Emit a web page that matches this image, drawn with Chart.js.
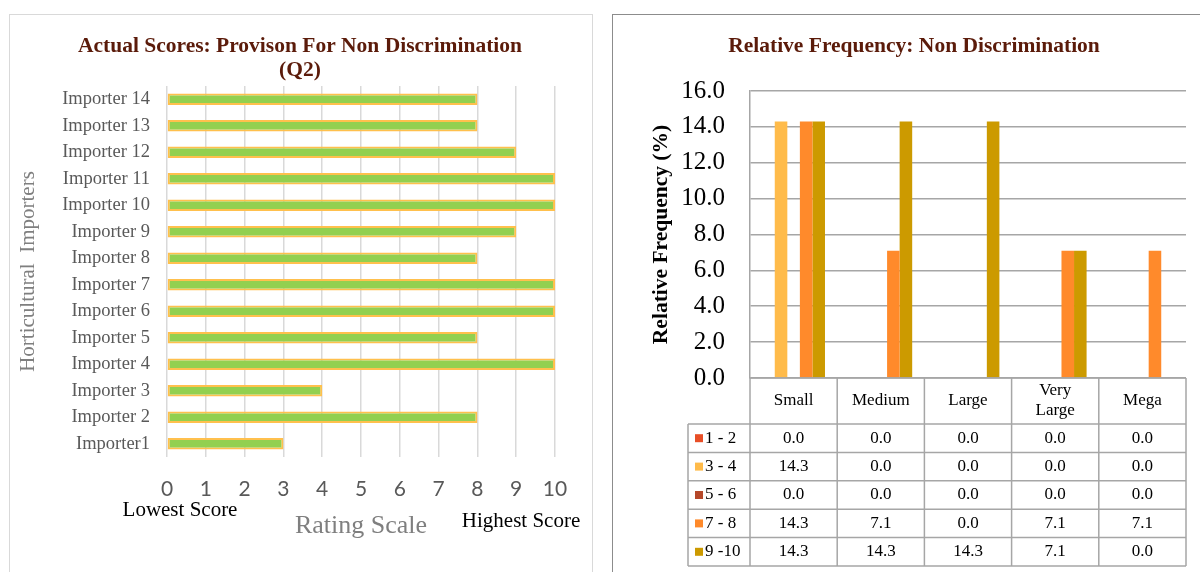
<!DOCTYPE html>
<html>
<head>
<meta charset="utf-8">
<script src="https://cdn.jsdelivr.net/npm/chart.js@4.4.1/dist/chart.umd.min.js"></script>
<style>
  body { margin: 0; background: #fff; width: 1200px; height: 572px; overflow: hidden; position: relative; }
  .panel { position: absolute; box-sizing: border-box; }
  #leftBox { left: 9px; top: 14px; width: 584px; height: 570px; border: 1.5px solid #d9d9d9; }
  #rightBox { left: 612px; top: 14px; width: 600px; height: 570px; border: 1.5px solid #8c8c8c; }
  canvas { position: absolute; top: 0; }
  #scoreChart { left: 0; }
  #freqChart { left: 600px; }
</style>
</head>
<body>
<div class="panel" id="leftBox"></div>
<div class="panel" id="rightBox"></div>
<canvas id="scoreChart" width="600" height="572"></canvas>
<canvas id="freqChart" width="600" height="572"></canvas>
<script>
/*----------------------------data------------------------------------*/
var importers = ['Importer1', 'Importer 2', 'Importer 3', 'Importer 4', 'Importer 5', 'Importer 6', 'Importer 7',
  'Importer 8', 'Importer 9', 'Importer 10', 'Importer 11', 'Importer 12', 'Importer 13', 'Importer 14'];
var scores = [3, 8, 4, 10, 8, 10, 10, 8, 9, 10, 10, 9, 8, 8];

var sizes = ['Small', 'Medium', 'Large', 'Very Large', 'Mega'];
var ranges = ['1 - 2', '3 - 4', '5 - 6', '7 - 8', '9 -10'];
var range12 = [0.0, 0.0, 0.0, 0.0, 0.0];
var range34 = [14.3, 0.0, 0.0, 0.0, 0.0];
var range56 = [0.0, 0.0, 0.0, 0.0, 0.0];
var range78 = [14.3, 7.1, 0.0, 7.1, 7.1];
var range910 = [14.3, 14.3, 14.3, 7.1, 0.0];
var rangeColors = ['#E84E26', '#FFBB4A', '#B5482A', '#FF8A2B', '#CC9A00'];

var serif = "'Liberation Serif', 'Times New Roman', serif";
var titleColor = '#5B1B0A';

/*----------------------------HorizontalBar------------------------------------*/
var scoreNotes = {
  id: 'scoreNotes',
  afterDraw: function (chart) {
    var ctx = chart.ctx, x = chart.scales.x;
    ctx.save();
    ctx.fillStyle = '#000';
    ctx.font = '21px ' + serif;
    ctx.textBaseline = 'middle';
    ctx.textAlign = 'center';
    ctx.fillText('Lowest Score', x.getPixelForValue(0) + 13, 510);
    ctx.fillText('Highest Score', x.getPixelForValue(10) - 34, 521);
    ctx.restore();
  }
};

new Chart('scoreChart', {
  type: 'bar',
  data: {
    labels: importers,
    datasets: [{
      data: scores,
      backgroundColor: '#92D050',
      borderColor: '#FFC04D',
      borderWidth: 2,
      borderSkipped: false,
      categoryPercentage: 0.44,
      barPercentage: 1
    }]
  },
  options: {
    indexAxis: 'y',
    responsive: false,
    animation: false,
    layout: { padding: { left: 45, right: 45 } },
    plugins: {
      legend: { display: false },
      tooltip: { enabled: false },
      title: {
        display: true,
        text: ['Actual Scores: Provison For Non Discrimination', '(Q2)'],
        color: titleColor,
        font: { family: serif, size: 21.5, weight: 'bold', lineHeight: 1.116 },
        padding: { top: 34, bottom: 4 }
      }
    },
    scales: {
      x: {
        min: 0, max: 10,
        ticks: { stepSize: 1, padding: 20, color: '#595959', font: { family: 'Lato', size: 21 } },
        grid: { color: '#d9d9d9', lineWidth: 1.5, drawTicks: false },
        border: { display: false },
        title: {
          display: true, text: 'Rating Scale', color: '#7f7f7f',
          font: { family: serif, size: 26 }, padding: { top: 0, bottom: 30 }
        },
        afterFit: function (scale) { scale.height = 115; }
      },
      y: {
        reverse: true,
        ticks: { padding: 17, color: '#595959', font: { family: serif, size: 18.5 } },
        grid: { display: false, drawTicks: false },
        border: { display: false },
        title: {
          display: true, text: 'Horticultural  Importers', color: '#7f7f7f',
          font: { family: serif, size: 21 }, padding: { top: -29.6, bottom: 0 }
        },
        afterFit: function (scale) { scale.width = 122; }
      }
    }
  },
  plugins: [scoreNotes]
});

/*----------------------------GroupedBar + data table------------------------------------*/
var dataTable = {
  id: 'dataTable',
  afterDraw: function (chart) {
    var ctx = chart.ctx, area = chart.chartArea, x = chart.scales.x;
    var colW = (area.right - area.left) / sizes.length;
    var top = area.bottom, headH = 46, rowH = 28.4, legW = 62;
    var bottom = top + headH + rowH * ranges.length;
    ctx.save();
    ctx.strokeStyle = '#a6a6a6';
    ctx.lineWidth = 1.5;
    ctx.beginPath();
    for (var i = 0; i <= sizes.length; i++) {
      ctx.moveTo(area.left + i * colW, top);
      ctx.lineTo(area.left + i * colW, bottom);
    }
    ctx.moveTo(area.left - legW, top + headH);
    ctx.lineTo(area.left - legW, bottom);
    ctx.moveTo(area.left, top);
    ctx.lineTo(area.right, top);
    for (var r = 0; r <= ranges.length; r++) {
      ctx.moveTo(area.left - legW, top + headH + r * rowH);
      ctx.lineTo(area.right, top + headH + r * rowH);
    }
    ctx.stroke();

    ctx.fillStyle = '#000';
    ctx.font = '17px ' + serif;
    ctx.textAlign = 'center';
    ctx.textBaseline = 'middle';
    sizes.forEach(function (s, i) {
      var cx = x.getPixelForValue(i);
      var parts = s.split(' ');
      parts.forEach(function (p, k) {
        ctx.fillText(p, cx, top + headH / 2 + (k - (parts.length - 1) / 2) * 20);
      });
    });
    chart.data.datasets.forEach(function (ds, r) {
      var cy = top + headH + rowH * r + rowH / 2;
      ds.data.forEach(function (v, i) {
        ctx.fillStyle = '#000';
        ctx.textAlign = 'center';
        ctx.fillText(v.toFixed(1), x.getPixelForValue(i), cy);
      });
      ctx.fillStyle = ds.backgroundColor;
      ctx.fillRect(area.left - legW + 7, cy - 4, 8, 8);
      ctx.fillStyle = '#000';
      ctx.textAlign = 'left';
      ctx.fillText(ds.label, area.left - legW + 17, cy);
    });
    ctx.restore();
  }
};

var series = [range12, range34, range56, range78, range910];

new Chart('freqChart', {
  type: 'bar',
  data: {
    labels: sizes,
    datasets: series.map(function (d, i) {
      return {
        label: ranges[i],
        data: d,
        backgroundColor: rangeColors[i],
        categoryPercentage: 0.72,
        barPercentage: 1
      };
    })
  },
  options: {
    responsive: false,
    animation: false,
    layout: { padding: { left: 42, right: 14 } },
    plugins: {
      legend: { display: false },
      tooltip: { enabled: false },
      title: {
        display: true,
        text: 'Relative Frequency: Non Discrimination',
        color: titleColor,
        font: { family: serif, size: 21.5, weight: 'bold', lineHeight: 1.116 },
        padding: { top: 34, bottom: 33 }
      }
    },
    scales: {
      x: {
        ticks: { display: false },
        grid: { display: false, drawTicks: false },
        border: { display: false },
        afterFit: function (scale) { scale.height = 194; }
      },
      y: {
        min: 0, max: 16,
        ticks: {
          stepSize: 2, padding: 25, color: '#000',
          font: { family: serif, size: 25 },
          callback: function (v) { return v.toFixed(1); }
        },
        grid: { color: '#a6a6a6', lineWidth: 1.5, drawTicks: false },
        border: { color: '#a6a6a6', width: 1.5 },
        title: {
          display: true, text: 'Relative Frequency (%)', color: '#000',
          font: { family: serif, size: 21.5, weight: 'bold' }, padding: { top: 6.8, bottom: 0 }
        },
        afterFit: function (scale) { scale.width = 108; }
      }
    }
  },
  plugins: [dataTable]
});
</script>
</body>
</html>
